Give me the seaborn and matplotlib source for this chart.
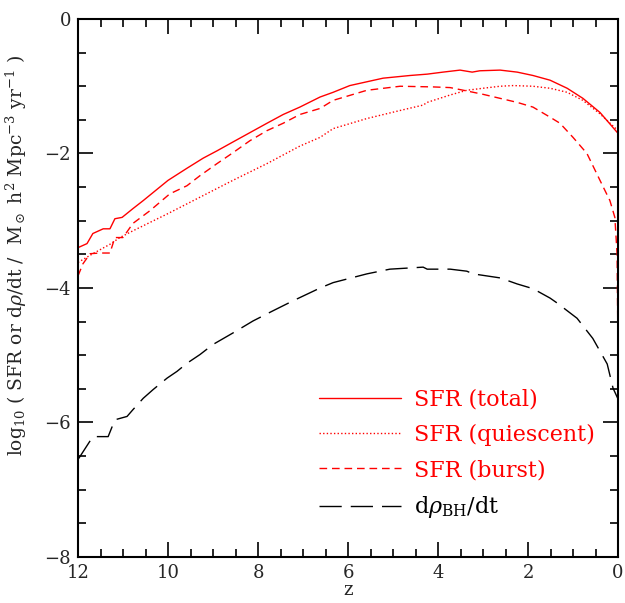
import seaborn as sns
import matplotlib.pyplot as plt
import numpy as np
from matplotlib.ticker import MultipleLocator

# =========================
#   DATA
# =========================

z_total = [12.0, 11.8, 11.67, 11.44, 11.29, 11.18, 11.02, 10.78, 10.55, 10.33, 10.0,
           9.58, 9.22, 8.91, 8.56, 8.18, 7.8, 7.44, 7.07, 6.62, 6.33, 5.96, 5.22,
           4.62, 4.24, 3.89, 3.51, 3.24, 3.07, 2.62, 2.24, 1.89, 1.51, 1.13, 0.78,
           0.4, 0.0]
sfr_total = [-3.40, -3.34, -3.19, -3.12, -3.12, -2.97, -2.95, -2.82, -2.70, -2.58, -2.40,
             -2.22, -2.07, -1.96, -1.83, -1.69, -1.55, -1.42, -1.31, -1.16, -1.09, -0.99, -0.88,
             -0.84, -0.82, -0.79, -0.76, -0.79, -0.77, -0.76, -0.79, -0.84, -0.91, -1.03, -1.18,
             -1.39, -1.70]

z_quiet = [12.0, 11.67, 11.29, 11.07, 10.78, 10.02, 9.29, 8.56, 7.8, 7.07, 6.62,
           6.33, 5.58, 4.84, 4.33, 4.24, 3.73, 3.36, 3.0, 2.62, 2.33, 1.89, 1.51,
           1.13, 0.78, 0.4, 0.0]
sfr_quiet = [-3.62, -3.49, -3.35, -3.25, -3.15, -2.90, -2.65, -2.40, -2.15, -1.89, -1.76,
             -1.63, -1.48, -1.36, -1.28, -1.24, -1.13, -1.06, -1.03, -1.00, -0.99, -1.00, -1.03,
             -1.09, -1.21, -1.41, -1.66]

z_burst = [12.0, 11.89, 11.73, 11.51, 11.29, 11.18, 11.0, 10.78, 10.4, 9.96, 9.58,
           9.29, 8.91, 8.56, 8.18, 7.8, 7.44, 7.07, 6.62, 6.33, 5.58, 4.84, 4.11,
           3.73, 3.36, 3.0, 2.62, 2.24, 1.89, 1.51, 1.29, 1.0, 0.69, 0.4, 0.18,
           0.07, 0.02, 0.0]
sfr_burst = [-3.82, -3.64, -3.49, -3.48, -3.48, -3.25, -3.25, -3.04, -2.85, -2.60, -2.48,
             -2.33, -2.15, -1.99, -1.81, -1.66, -1.55, -1.42, -1.33, -1.21, -1.06, -1.00, -1.01,
             -1.02, -1.07, -1.12, -1.18, -1.24, -1.31, -1.46, -1.55, -1.76, -2.00, -2.40, -2.70,
             -2.95, -3.50, -4.95]

z_bh = [12.0, 11.96, 11.67, 11.33, 11.18, 10.91, 10.78, 10.55, 10.33, 10.02, 9.8,
        9.58, 9.29, 9.0, 8.56, 8.11, 7.67, 7.22, 6.62, 6.33, 5.58, 5.07, 4.33,
        4.24, 3.73, 3.36, 3.22, 2.62, 2.24, 1.89, 1.51, 1.36, 0.91, 0.56, 0.24,
        0.11, 0.0]
rho_bh = [-6.55, -6.51, -6.21, -6.21, -5.96, -5.91, -5.81, -5.64, -5.51, -5.34, -5.24,
          -5.12, -4.99, -4.84, -4.67, -4.49, -4.34, -4.19, -4.00, -3.92, -3.79, -3.72, -3.69,
          -3.72, -3.72, -3.75, -3.79, -3.85, -3.94, -4.01, -4.15, -4.22, -4.45, -4.75, -5.13,
          -5.49, -5.65]

series = [
    ("SFR (total)", z_total, sfr_total, "red", "-"),
    ("SFR (quiescent)", z_quiet, sfr_quiet, "red", (0, (1, 1.6))),
    ("SFR (burst)", z_burst, sfr_burst, "red", (0, (5.5, 3.5))),
    (r"d$\rho_{\rm BH}$/dt", z_bh, rho_bh, "black", (0, (16, 6.5))),
]

# =========================
#   PLOT
# =========================

sns.set_theme(style="ticks")
plt.rcParams["font.family"] = ["DejaVu Serif"]
plt.rcParams["mathtext.fontset"] = "dejavuserif"

fig = plt.figure(figsize=(6.25, 6.03), dpi=100)
ax = fig.add_axes([0.1248, 0.0763, 0.864, 0.8922])

for label, zz, yy, col, ls in series:
    sns.lineplot(x=zz, y=yy, ax=ax, color=col, linestyle=ls, linewidth=1.0,
                 label=label, estimator=None, sort=False)

ax.set_xlim(12, 0)
ax.set_ylim(-8, 0)
ax.xaxis.set_major_locator(MultipleLocator(2))
ax.xaxis.set_minor_locator(MultipleLocator(0.5))
ax.yaxis.set_major_locator(MultipleLocator(2))
ax.yaxis.set_minor_locator(MultipleLocator(0.5))
ax.tick_params(which="both", direction="in", top=True, right=True,
               color="black", width=1.2)
ax.tick_params(which="major", length=11, labelsize=13, pad=5)
ax.tick_params(which="minor", length=5.5)
for s in ax.spines.values():
    s.set_linewidth(1.5)
    s.set_color("black")

ax.set_xlabel("z", fontsize=13, labelpad=-1)
ax.set_ylabel(r"log$_{10}$ ( SFR or d$\rho$/dt /  M$_\odot$ h$^2$ Mpc$^{-3}$ yr$^{-1}$ )",
              fontsize=13.5)
ax.yaxis.set_label_coords(-0.09, 0.56)

leg = ax.legend(loc="upper left", bbox_to_anchor=(0.43, 0.33), frameon=False,
                fontsize=16, handlelength=3.7, handletextpad=0.55, labelspacing=0.6,
                borderaxespad=0)
for text, (_, _, _, col, _) in zip(leg.get_texts(), series):
    text.set_color(col)

plt.savefig("out.png", dpi=100)
